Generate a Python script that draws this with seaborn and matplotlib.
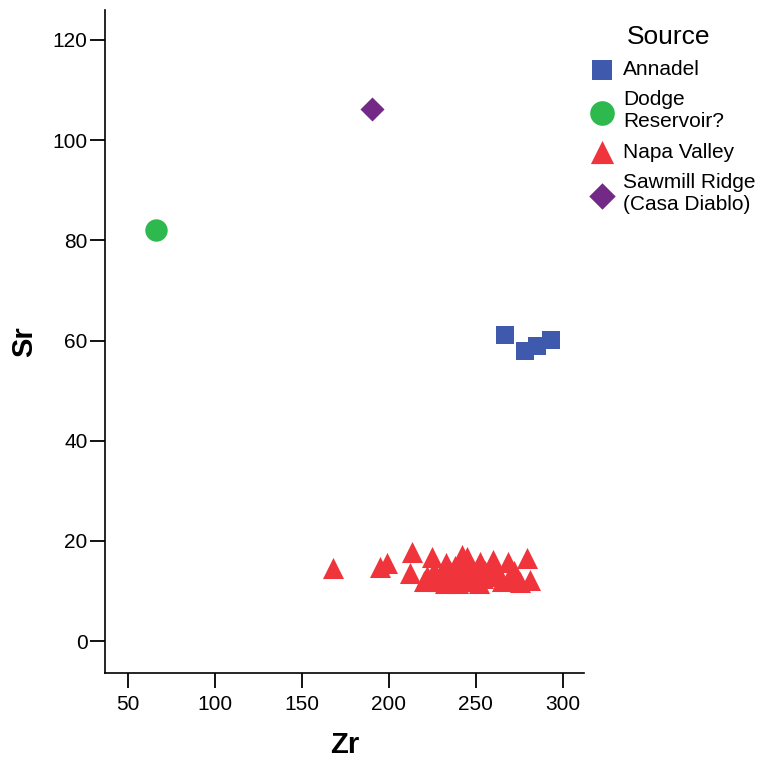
import matplotlib
matplotlib.use("Agg")
import matplotlib.pyplot as plt
import seaborn as sns
import pandas as pd

annadel_zr = [266.7, 278.2, 285.0, 293.1]
annadel_sr = [61.0, 58.0, 59.0, 60.2]
dodge_zr = [66.0]
dodge_sr = [82.0]
sawmill_zr = [190.2]
sawmill_sr = [106.2]
napa_zr = [167.8, 194.8, 198.9, 213.2, 212.0, 224.7, 233.0, 242.0, 244.8, 252.3,
           259.8, 268.4, 279.3, 268.4, 275.3, 281.0,
           220, 222, 226, 228, 230, 232, 235, 237, 238, 240, 240, 242, 244, 245,
           247, 248, 250, 252, 254, 255, 258, 262, 265, 270, 272]
napa_sr = [14.6, 14.8, 15.6, 17.8, 13.6, 16.8, 15.6, 17.2, 16.8, 15.8,
           16.2, 15.8, 16.6, 12.2, 11.8, 12.2,
           12, 13, 14, 12, 13, 11.5, 14, 12, 15, 11.5, 13, 14.5, 12, 15,
           13, 12, 14, 11.5, 12.5, 14, 13, 14, 12, 13, 14]

sources = ["Annadel", "Dodge\nReservoir?", "Napa Valley", "Sawmill Ridge\n(Casa Diablo)"]
colors = ["#3F5AAC", "#2DB94D", "#F0343C", "#722A86"]
markers = ["s", "o", "^", "D"]
sizes = [170, 260, 230, 150]

df = pd.concat([
    pd.DataFrame({"Zr": annadel_zr, "Sr": annadel_sr, "Source": sources[0]}),
    pd.DataFrame({"Zr": dodge_zr, "Sr": dodge_sr, "Source": sources[1]}),
    pd.DataFrame({"Zr": napa_zr, "Sr": napa_sr, "Source": sources[2]}),
    pd.DataFrame({"Zr": sawmill_zr, "Sr": sawmill_sr, "Source": sources[3]}),
], ignore_index=True)

sns.set_style("ticks")
plt.rcParams["font.family"] = ["Liberation Sans", "DejaVu Sans"]
plt.rcParams["text.color"] = "black"
plt.rcParams["axes.labelcolor"] = "black"

fig = plt.figure(figsize=(7.61, 7.64), dpi=100)
ax = fig.add_axes([0.138, 0.119, 0.629, 0.868])

for src, c, m, s in zip(sources, colors, markers, sizes):
    sub = df[df["Source"] == src]
    sns.scatterplot(data=sub, x="Zr", y="Sr", color=c, marker=m, s=s,
                    linewidth=0, ax=ax, label=src)

ax.set_xlim(36.8, 312)
ax.set_ylim(-6.4, 126)
ax.set_xticks([50, 100, 150, 200, 250, 300])
ax.set_yticks([0, 20, 40, 60, 80, 100, 120])
for sp in ["top", "right"]:
    ax.spines[sp].set_visible(False)
for sp in ["left", "bottom"]:
    ax.spines[sp].set_linewidth(1.2)
    ax.spines[sp].set_color("black")
ax.tick_params(axis="both", direction="out", length=11, width=1.3, colors="black",
               labelsize=15)
ax.tick_params(axis="y", pad=1.5)
ax.tick_params(axis="x", pad=5)
ax.set_xlabel("Zr", fontsize=21, fontweight="bold", labelpad=12)
ax.set_ylabel("Sr", fontsize=21, fontweight="bold", labelpad=10)

leg = ax.legend(loc="upper left", bbox_to_anchor=(0.965, 1.0), frameon=False,
                title="Source", fontsize=15, title_fontsize=19,
                handletextpad=0.0, labelspacing=0.55, borderaxespad=0.3,
                markerscale=1.1)
for t in leg.get_texts():
    t.set_linespacing(1.2)

fig.savefig("out.png", dpi=100)
